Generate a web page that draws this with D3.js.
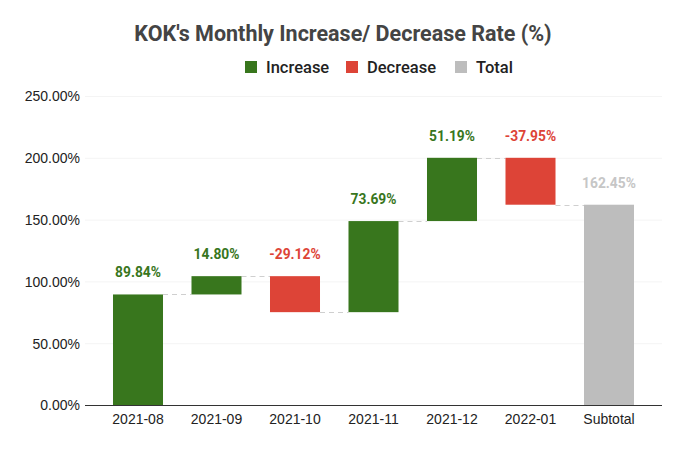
<!DOCTYPE html>
<html>
<head>
<meta charset="utf-8">
<script src="https://cdn.jsdelivr.net/npm/d3@7"></script>
<style>
  body { margin: 0; background: #fff; }
  svg { display: block; }
</style>
</head>
<body>
<div id="chart"></div>
<script>
// monthly change values (%), last one is the subtotal
var categories = ["2021-08", "2021-09", "2021-10", "2021-11", "2021-12", "2022-01", "Subtotal"];
var changes = [89.84, 14.80, -29.12, 73.69, 51.19, -37.95];
var subtotal = 162.45;
var yTicks = [0, 50, 100, 150, 200, 250];
var legendNames = ["Increase", "Decrease", "Total"];

var colors = {Increase: "#38761d", Decrease: "#dd4437", Total: "#bdbdbd"};
var labelColors = {Increase: "#38761d", Decrease: "#dd4437", Total: "#c6c6c6"};

var width = 684, height = 451;

// plain hyphen for negatives, like the sheet does
var fmt = d3.formatLocale({decimal: ".", thousands: ",", grouping: [3], currency: ["", ""], minus: "-"}).format(".2f");

// build start/end for each step of the waterfall
var rows = [];
var run = 0;
changes.forEach(function(v, i) {
    rows.push({cat: categories[i], start: run, end: run + v, value: v, kind: v >= 0 ? "Increase" : "Decrease"});
    run += v;
});
rows.push({cat: categories[6], start: 0, end: subtotal, value: subtotal, kind: "Total"});

var svg = d3.select("#chart")
    .append("svg")
    .attr("width", width)
    .attr("height", height);

var x = d3.scaleBand()
    .domain(categories)
    .range([98.75, 648.25])
    .paddingInner(0.363)
    .paddingOuter(0.1815);

var y = d3.scaleLinear()
    .domain([0, 250])
    .range([405.5, 96.5]);

// faint grid lines
svg.append("g")
    .selectAll("line")
    .data(yTicks.slice(1))
    .enter()
    .append("line")
    .attr("x1", 85)
    .attr("x2", 662)
    .attr("y1", function(d) { return y(d); })
    .attr("y2", function(d) { return y(d); })
    .attr("stroke", "#f4f4f4")
    .attr("stroke-width", 1);

// y labels
svg.append("g")
    .selectAll("text")
    .data(yTicks)
    .enter()
    .append("text")
    .attr("x", 80)
    .attr("y", function(d) { return y(d); })
    .attr("dy", "0.35em")
    .attr("text-anchor", "end")
    .attr("font-family", "Liberation Sans, Arial, sans-serif")
    .attr("font-size", 14)
    .attr("fill", "#222")
    .text(function(d) { return fmt(d) + "%"; });

// dashed connectors between bars
svg.append("g")
    .selectAll("line")
    .data(rows.slice(0, rows.length - 1))
    .enter()
    .append("line")
    .attr("x1", function(d) { return x(d.cat) + x.bandwidth(); })
    .attr("x2", function(d, i) { return x(categories[i + 1]); })
    .attr("y1", function(d) { return Math.round(y(d.end)) + 0.5; })
    .attr("y2", function(d) { return Math.round(y(d.end)) + 0.5; })
    .attr("stroke", "#cfcfcf")
    .attr("stroke-width", 1)
    .attr("stroke-dasharray", "5,4");

// bars
svg.append("g")
    .selectAll("rect")
    .data(rows)
    .enter()
    .append("rect")
    .attr("x", function(d) { return x(d.cat); })
    .attr("width", x.bandwidth())
    .attr("y", function(d) { return y(Math.max(d.start, d.end)); })
    .attr("height", function(d) { return Math.abs(y(d.start) - y(d.end)); })
    .attr("fill", function(d) { return colors[d.kind]; });

// value labels above each bar
svg.append("g")
    .selectAll("text")
    .data(rows)
    .enter()
    .append("text")
    .attr("x", function(d) { return x(d.cat) + x.bandwidth() / 2; })
    .attr("y", function(d) { return y(Math.max(d.start, d.end)) - 17; })
    .attr("text-anchor", "middle")
    .attr("font-family", "Roboto, sans-serif")
    .attr("font-weight", "bold")
    .attr("font-size", 13.8)
    .attr("fill", function(d) { return labelColors[d.kind]; })
    .text(function(d) { return fmt(d.value) + "%"; });

// x axis
var xAxis = svg.append("g")
    .attr("transform", "translate(0," + 405.5 + ")")
    .call(d3.axisBottom(x).tickSize(0).tickPadding(9));
xAxis.select(".domain")
    .attr("d", "M85,0H662")
    .attr("stroke", "#333");
xAxis.selectAll("text")
    .attr("font-family", "Liberation Sans, Arial, sans-serif")
    .attr("font-size", 14)
    .attr("fill", "#222");

// title
svg.append("text")
    .attr("x", 343)
    .attr("y", 41)
    .attr("text-anchor", "middle")
    .attr("font-family", "Roboto, sans-serif")
    .attr("font-weight", "bold")
    .attr("font-size", 21.5)
    .attr("fill", "#444")
    .text("KOK's Monthly Increase/ Decrease Rate (%)");

// legend
var legendX = [245, 346, 455];
var legend = svg.append("g")
    .selectAll("g")
    .data(legendNames)
    .enter()
    .append("g")
    .attr("transform", function(d, i) { return "translate(" + legendX[i] + ",61)"; });
legend.append("rect")
    .attr("width", 12)
    .attr("height", 12)
    .attr("fill", function(d) { return colors[d]; });
legend.append("text")
    .attr("x", 21)
    .attr("y", 6)
    .attr("dy", "0.35em")
    .attr("font-family", "Roboto, sans-serif")
    .attr("font-weight", 500)
    .attr("font-size", 16.5)
    .attr("fill", "#222")
    .text(function(d) { return d; });
</script>
</body>
</html>
